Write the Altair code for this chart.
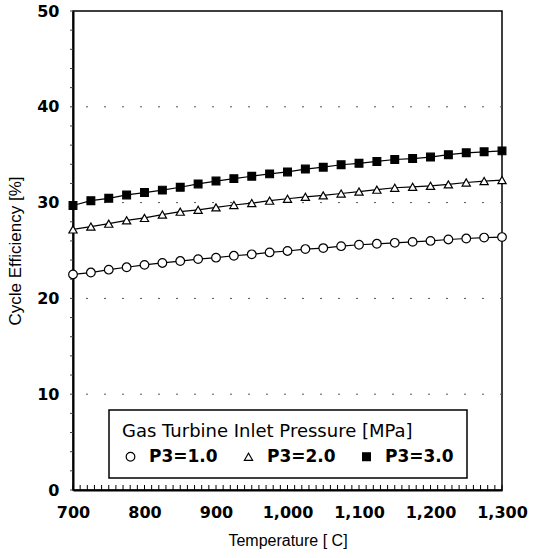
import altair as alt
import pandas as pd

temps = list(range(700, 1301, 25))
p3_1 = [22.5, 22.7, 23.0, 23.25, 23.5, 23.7, 23.9, 24.1, 24.25, 24.45, 24.6, 24.8, 24.95,
        25.15, 25.25, 25.45, 25.6, 25.7, 25.8, 25.9, 26.0, 26.15, 26.25, 26.35, 26.4]
p3_2 = [27.2, 27.5, 27.8, 28.15, 28.4, 28.75, 29.05, 29.25, 29.5, 29.75, 29.95, 30.2, 30.4,
        30.6, 30.75, 30.95, 31.15, 31.35, 31.55, 31.65, 31.75, 31.9, 32.1, 32.25, 32.35]
p3_3 = [29.7, 30.2, 30.45, 30.8, 31.05, 31.3, 31.6, 31.95, 32.25, 32.5, 32.75, 33.0, 33.2,
        33.5, 33.7, 33.95, 34.1, 34.3, 34.5, 34.6, 34.75, 35.0, 35.2, 35.3, 35.4]
series_names = ["P3=1.0", "P3=2.0", "P3=3.0"]
x_ticks = list(range(700, 1301, 100))
y_ticks = list(range(0, 51, 10))
y_minor = list(range(0, 51, 2))
grid_values = [10, 20, 30, 40]
minor_x = list(range(700, 1301, 10))

rows = []
for name, vals in zip(series_names, [p3_1, p3_2, p3_3]):
    for t, v in zip(temps, vals):
        rows.append({"T": t, "eff": v, "series": name})
df = pd.DataFrame(rows)

W, H = 429, 479
FONT = "Liberation Sans"
BFONT = "DejaVu Sans"
LTITLE = "Gas Turbine Inlet Pressure [MPa]"
XT = "Temperature [ C]"
YT = "Cycle Efficiency [%]"

xscale = alt.Scale(domain=[700, 1300], nice=False, zero=False)
yscale = alt.Scale(domain=[0, 50], nice=False)

x_enc = alt.X("T:Q", scale=xscale, title=XT,
              axis=alt.Axis(values=x_ticks, format=",d", tickSize=0, labelPadding=14,
                            labelFont=BFONT, labelFontWeight="bold", labelFontSize=16,
                            labelColor="black", titleFont=FONT, titleFontSize=16,
                            titleFontWeight="normal", titleColor="black", titlePadding=12,
                            domainColor="black", domainWidth=2, grid=False,
                            labelFlush=False, labelOverlap=False))
y_enc = alt.Y("eff:Q", scale=yscale, title=YT,
              axis=alt.Axis(values=y_ticks, tickSize=0, labelPadding=14,
                            labelFont=BFONT, labelFontWeight="bold", labelFontSize=16,
                            labelColor="black", titleFont=FONT, titleFontSize=17,
                            titleFontWeight="normal", titleColor="black", titlePadding=12,
                            domainColor="black", domainWidth=2, grid=False,
                            labelOverlap=False))

lines = alt.Chart(df).mark_line(color="black", strokeWidth=1.2).encode(
    x=x_enc, y=y_enc, detail="series:N"
)

grid = alt.Chart(pd.DataFrame({"eff": grid_values})).mark_rule(
    color="#555", strokeWidth=1, strokeDash=[2, 16]
).encode(y=alt.Y("eff:Q", scale=yscale, title=YT))

yminor = alt.Chart(pd.DataFrame({"eff": y_minor})).mark_rule(
    color="#444", strokeWidth=1
).encode(
    y=alt.Y("eff:Q", scale=yscale, title=YT),
    x=alt.value(-3), x2=alt.value(0),
)

legend = alt.Legend(title=LTITLE)

points = alt.Chart(df).mark_point(filled=False, strokeWidth=1.2, opacity=1).encode(
    x=alt.X("T:Q", scale=xscale, title=XT),
    y=alt.Y("eff:Q", scale=yscale, title=YT),
    shape=alt.Shape("series:N", scale=alt.Scale(domain=series_names,
                    range=["circle", "triangle-up", "square"]), legend=legend),
    fill=alt.Fill("series:N", scale=alt.Scale(domain=series_names,
                  range=["white", "white", "black"]), legend=legend),
    stroke=alt.Stroke("series:N", scale=alt.Scale(domain=series_names,
                      range=["black", "black", "black"]), legend=legend),
    size=alt.Size("series:N", scale=alt.Scale(domain=series_names,
                  range=[75, 60, 36]), legend=legend),
)

minor = alt.Chart(pd.DataFrame({"T": minor_x})).mark_rule(
    color="black", strokeWidth=1
).encode(
    x=alt.X("T:Q", scale=xscale, title=XT),
    y=alt.value(H),
    y2=alt.value(H - 5),
)

chart = alt.layer(lines, grid, yminor, points, minor).properties(
    width=W, height=H,
    autosize=alt.AutoSizeParams(type="none"),
    padding={"left": 73, "top": 11, "right": 31, "bottom": 68},
).configure_view(
    stroke="black", strokeWidth=1.5
).configure_legend(
    orient="none", legendX=36, legendY=399, direction="horizontal",
    strokeColor="black", strokeWidth=1.5, fillColor="white", padding=13,
    titleFont=BFONT, titleFontSize=18, titleFontWeight="normal", titleColor="black",
    titlePadding=7, titleLimit=600, labelFont=BFONT, labelFontWeight="bold", labelFontSize=17,
    labelColor="black", labelOffset=10, columnPadding=22, labelLimit=200,
    symbolStrokeWidth=1.2,
)

chart.save("out.html", embed_options={"renderer": "svg", "actions": False})
